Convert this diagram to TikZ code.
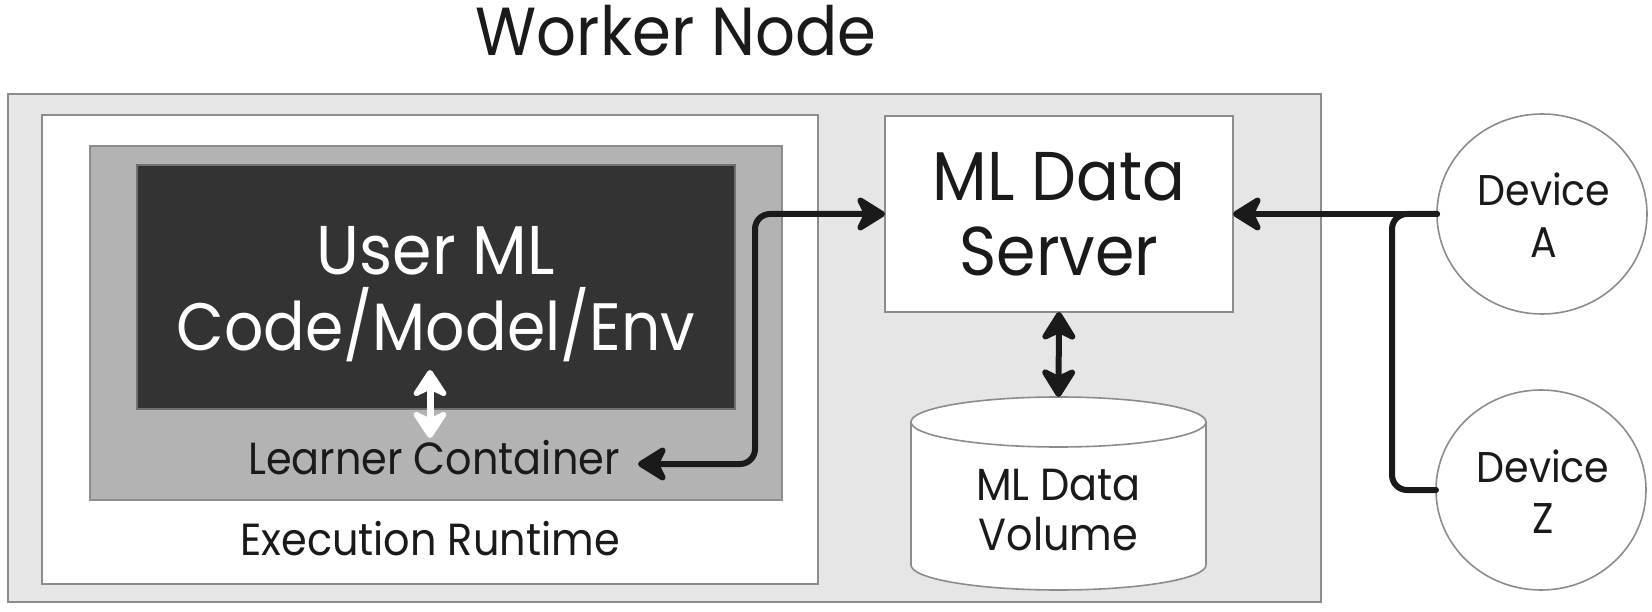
\documentclass[tikz,border=0pt]{standalone}
\usepackage{fontspec}
\setmainfont{Poppins}[FakeStretch=0.92]
\usetikzlibrary{shapes.geometric,arrows.meta}
\definecolor{ink}{HTML}{1A1A1A}
\definecolor{edge}{HTML}{8C8C8C}
\definecolor{outerfill}{HTML}{E6E6E6}
\definecolor{learnfill}{HTML}{B3B3B3}
\definecolor{darkfill}{HTML}{333333}
\begin{document}
\begin{tikzpicture}[x=1pt,y=-1pt,
  box/.style={draw=edge, line width=2pt, anchor=north west, inner sep=0pt, outer sep=0pt},
  titletext/.style={font=\fontsize{68}{78}\selectfont, anchor=base, inner sep=0pt, text=ink},
  big/.style={font=\fontsize{69}{78}\selectfont, anchor=base, inner sep=0pt, text=ink},
  small/.style={font=\fontsize{45}{52}\selectfont, anchor=base, inner sep=0pt, text=ink},
  devtext/.style={font=\fontsize{43}{50}\selectfont, anchor=base, inner sep=0pt, text=ink},
  conn/.style={draw=ink, line width=6pt, rounded corners=15pt, line cap=round,
    >={Stealth[length=34pt,width=42pt,inset=10pt,round]}},
  device/.style={ellipse, draw=edge, line width=1.6pt, fill=white, inner sep=0pt, outer sep=0pt,
    minimum width=210pt, minimum height=200pt},
]
\useasboundingbox (0,0) rectangle (1652,612);
\fill[white] (0,0) rectangle (1652,612);

% boxes
\node[box, fill=outerfill, minimum width=1313pt, minimum height=508pt] (outer) at (8,94) {};
\node[box, fill=white, minimum width=776pt, minimum height=469pt] (runtime) at (42,115) {};
\node[box, fill=learnfill, minimum width=692pt, minimum height=354pt] (learner) at (90,146) {};
\node[box, fill=darkfill, draw=edge!80!black, minimum width=598pt, minimum height=244pt] (dark) at (137,165) {};
\node[box, fill=white, minimum width=348pt, minimum height=196pt] (srv) at (885,116) {};

% cylinder
\path[draw=edge, line width=1.6pt, fill=white]
  (911,422) -- (911,565) arc[start angle=180, end angle=0, x radius=147.5, y radius=25]
  -- (1206,422) -- cycle;
\draw[draw=edge, line width=1.6pt, fill=white] (1058.5,422) ellipse[x radius=147.5, y radius=25];
\coordinate (voltop) at (1058.5,397);

% devices
\node[device] (devA) at (1542,214) {};
\node[device] (devZ) at (1541,490) {};

% texts
\node[titletext] (title) at (676,56) {Worker Node};
\node[big, text=white] (user1) at (436,275) {User ML};
\node[big, text=white, font=\fontsize{67}{78}\selectfont] (user2) at (436,350) {Code/Model/Env};
\node[small] (lct) at (434,474) {Learner Container};
\node[small] (ert) at (430,555) {Execution Runtime};
\node[big] (srv1) at (1059,201) {ML Data};
\node[big] (srv2) at (1059,276) {Server};
\node[small] (vol1) at (1058.5,500) {ML Data};
\node[small] (vol2) at (1058.5,550) {Volume};
\node[devtext] (devA1) at (1544,206) {Device};
\node[devtext] (devA2) at (1544,258) {A};
\node[devtext] (devZ1) at (1543,482) {Device};
\node[devtext] (devZ2) at (1543,533) {Z};

% connectors
\coordinate (lctip) at (638,464);
\coordinate (brtop) at (1392,214);
\draw[conn,<->] (lctip) -- ++(117,0) |- (srv.west);
\draw[conn] (devZ.west) -| (brtop) -- (devA.west);
\draw[conn,->] (devA.west) -- (srv.east);
\draw[conn,<->] (srv.south) -- (voltop);

\coordinate (wa1) at (430,370);
\coordinate (wa2) at (430,438);
\draw[white, line width=7pt, >={Stealth[length=32pt,width=42pt,inset=10pt,round]}, <->] (wa1) -- (wa2);
\end{tikzpicture}
\end{document}
